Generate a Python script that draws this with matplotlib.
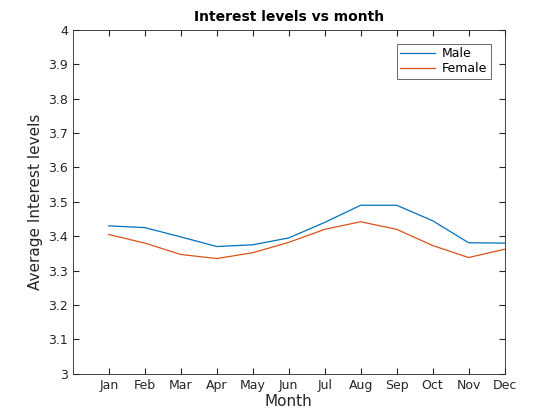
import matplotlib
matplotlib.use("Agg")
import matplotlib.pyplot as plt

months = ["Jan", "Feb", "Mar", "Apr", "May", "Jun", "Jul", "Aug", "Sep", "Oct", "Nov", "Dec"]
male = [3.430, 3.425, 3.398, 3.370, 3.375, 3.395, 3.440, 3.490, 3.490, 3.445, 3.381, 3.380]
female = [3.405, 3.380, 3.347, 3.335, 3.352, 3.382, 3.420, 3.442, 3.420, 3.373, 3.338, 3.362]

fig = plt.figure(figsize=(5.6, 4.2), dpi=100)
ax = fig.add_axes([0.13, 0.11, 0.771, 0.819])
x = list(range(1, 13))
ax.plot(x, male, color="#0072BD", lw=0.9, label="Male")
ax.plot(x, female, color="#D95319", lw=0.9, label="Female")

ax.set_xlim(0, 12)
ax.set_ylim(3, 4)
ax.set_xticks(x)
ax.set_xticklabels(months)
ax.set_yticks([3 + 0.1 * i for i in range(11)])
ax.set_yticklabels(["3", "3.1", "3.2", "3.3", "3.4", "3.5", "3.6", "3.7", "3.8", "3.9", "4"])
ax.tick_params(direction="in", top=True, right=True, labelsize=9, colors="#262626", length=4)
for s in ax.spines.values():
    s.set_linewidth(0.6)
    s.set_color("#262626")
ax.set_xlabel("Month", fontsize=11, color="#262626", labelpad=2)
ax.set_ylabel("Average Interest levels", fontsize=11, color="#262626")
ax.set_title("Interest levels vs month", fontsize=10, fontweight="bold")
leg = ax.legend(loc="upper right", fontsize=9, fancybox=False, edgecolor="#262626",
                borderaxespad=1.1, handlelength=2.8, labelspacing=0.15, borderpad=0.3,
                handletextpad=0.5)
leg.get_frame().set_linewidth(0.6)

fig.savefig("out.png", dpi=100)
